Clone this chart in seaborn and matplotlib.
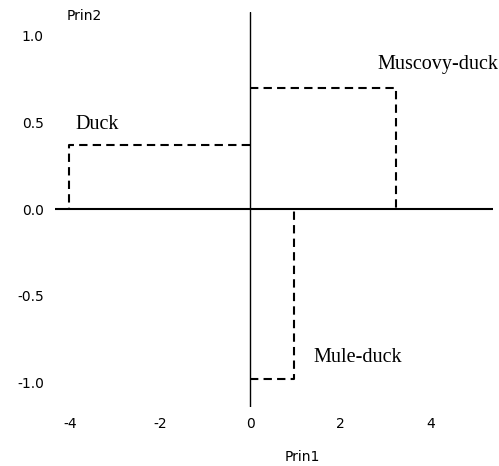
import matplotlib
matplotlib.use("Agg")
import matplotlib.pyplot as plt
import seaborn as sns

names = ["Duck", "Muscovy-duck", "Mule-duck"]
prin1 = [-4.02, 3.22, 0.97]
prin2 = [0.37, 0.70, -0.98]
label_x = [-3.88, 2.82, 1.40]
label_y = [0.46, 0.81, -0.88]
xticks = [-4, -2, 0, 2, 4]
yticks = [-1.0, -0.5, 0.0, 0.5, 1.0]

sns.set_style("white")
plt.rcParams["text.color"] = "black"
plt.rcParams["xtick.color"] = "black"
plt.rcParams["ytick.color"] = "black"
fig = plt.figure(figsize=(4.99, 4.66), dpi=100)
ax = fig.add_axes([0.110, 0.1266, 0.878, 0.848])

ax.axhline(0, color="black", lw=1.5)
ax.axvline(0, color="black", lw=1.0)

for name, x, y, lx, ly in zip(names, prin1, prin2, label_x, label_y):
    sns.lineplot(x=[0, x, x], y=[y, y, 0], sort=False, estimator=None,
                 color="black", lw=1.5, ax=ax)
    ax.lines[-1].set_dashes([4, 2.5])
    ax.text(lx, ly, name, family="Liberation Serif", fontsize=14.5,
            color="black", ha="left", va="baseline")

ax.set_xlim(-4.33, 5.38)
ax.set_ylim(-1.14, 1.137)
ax.set_xticks(xticks)
ax.set_yticks(yticks)
ax.set_xticklabels([str(t) for t in xticks], fontsize=10)
ax.set_yticklabels(["%.1f" % t for t in yticks], fontsize=10)
ax.tick_params(axis="y", length=0, pad=8)
ax.tick_params(axis="x", length=0, pad=7)
for s in ax.spines.values():
    s.set_visible(False)

fig.text(0.134, 0.965, "Prin2", fontsize=10, va="center")
fig.text(0.571, 0.02, "Prin1", fontsize=10, va="center")

fig.savefig("out.png", dpi=100)
